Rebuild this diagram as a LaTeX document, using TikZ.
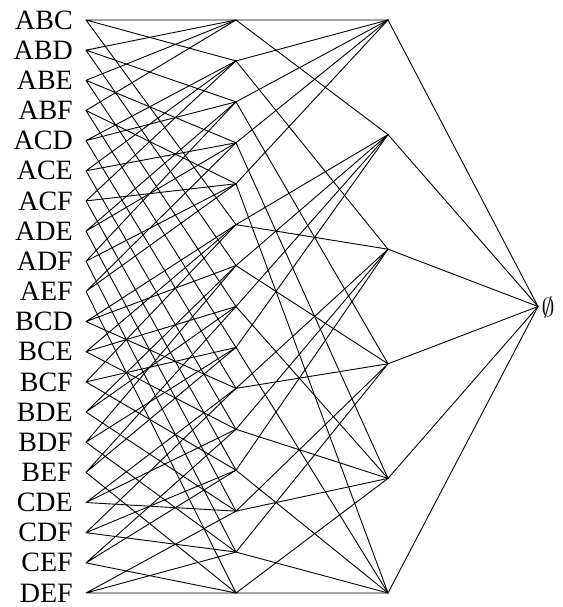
\documentclass[tikz,border=0pt]{standalone}
\usepackage{fontspec}
\setmainfont{Liberation Serif}
\begin{document}
\begin{tikzpicture}[x=1pt,y=-1pt,
  edge/.style={line width=0.9pt, line cap=round},
  vtx/.style={coordinate},
  lbl/.style={font=\fontsize{28}{30}\selectfont, inner sep=0pt, anchor=east}]
\useasboundingbox (0,0) rectangle (562,607);
% singletons
\foreach \a [count=\i from 0] in {A,B,C,D,E,F}{
  \node[vtx] (s\a) at (388,{20+\i*573/5}) {};
}
% pairs
\foreach \a/\b [count=\i from 0] in {A/B,A/C,A/D,A/E,A/F,B/C,B/D,B/E,B/F,C/D,C/E,C/F,D/E,D/F,E/F}{
  \node[vtx] (p\a\b) at (236,{20+\i*573/14}) {};
}
% triples
\foreach \a/\b/\c [count=\i from 0] in {A/B/C,A/B/D,A/B/E,A/B/F,A/C/D,A/C/E,A/C/F,A/D/E,A/D/F,A/E/F,B/C/D,B/C/E,B/C/F,B/D/E,B/D/F,B/E/F,C/D/E,C/D/F,C/E/F,D/E/F}{
  \node[vtx] (t\a\b\c) at (86,{20+\i*573/19}) {};
  \node[lbl] (l\a\b\c) at ([xshift=-13pt]t\a\b\c) {\a\b\c};
}
% empty set
\node[vtx] (e) at (538,306.5) {};
\node[anchor=west, inner sep=0pt] (el) at ([xshift=3.5pt,yshift=-1pt]e) {\scalebox{2.6}{$\emptyset$}};
% edges
\foreach \a/\b/\c in {A/B/C,A/B/D,A/B/E,A/B/F,A/C/D,A/C/E,A/C/F,A/D/E,A/D/F,A/E/F,B/C/D,B/C/E,B/C/F,B/D/E,B/D/F,B/E/F,C/D/E,C/D/F,C/E/F,D/E/F}{
  \draw[edge] (t\a\b\c) -- (p\a\b) (t\a\b\c) -- (p\a\c) (t\a\b\c) -- (p\b\c);
}
\foreach \a/\b in {A/B,A/C,A/D,A/E,A/F,B/C,B/D,B/E,B/F,C/D,C/E,C/F,D/E,D/F,E/F}{
  \draw[edge] (p\a\b) -- (s\a) (p\a\b) -- (s\b);
}
\foreach \a in {A,B,C,D,E,F}{
  \draw[edge] (s\a) -- (e);
}
\end{tikzpicture}
\end{document}
